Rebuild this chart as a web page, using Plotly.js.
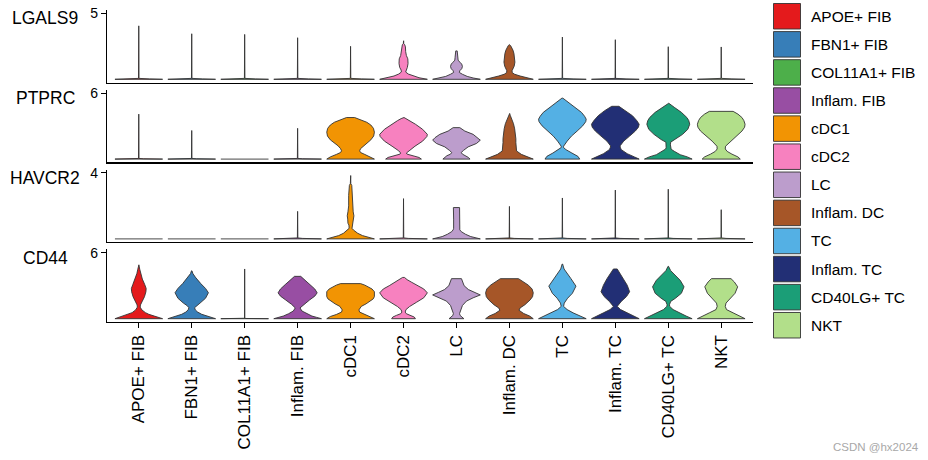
<!DOCTYPE html>
<html>
<head>
<meta charset="utf-8">
<script src="https://cdn.plot.ly/plotly-3.0.1.min.js"></script>
<style>html,body{margin:0;padding:0;background:#fff;}#chart{width:928px;height:460px;}</style>
</head>
<body>
<div id="chart"></div>
<script>
// ---------- data ----------
const cellTypes = ['APOE+ FIB','FBN1+ FIB','COL11A1+ FIB','Inflam. FIB','cDC1','cDC2','LC','Inflam. DC','TC','Inflam. TC','CD40LG+ TC','NKT'];
const cellColors = ['#E41A1C','#377EB8','#4DAF4A','#984EA3','#F29403','#F781BF','#BC9DCC','#A65628','#54B0E4','#222F75','#1B9E77','#B2DF8A'];
const genes = ['LGALS9','PTPRC','HAVCR2','CD44'];
const geneMax = [5, 6, 4, 6];

// violin density profiles: [expression, relative width]
const LGALS9_profiles = [
  [[0,1],[0.03,0.45],[0.07,0.01],[4.05,0]],
  [[0,1],[0.03,0.45],[0.07,0.01],[3.45,0]],
  [[0,1],[0.03,0.45],[0.07,0.01],[3.4,0]],
  [[0,1],[0.03,0.45],[0.07,0.01],[3.15,0]],
  [[0,1],[0.03,0.45],[0.07,0.01],[2.5,0]],
  [[0,1],[0.12,0.65],[0.25,0.4],[0.4,0.2],[0.55,0.09],[0.7,0.1],[0.9,0.16],[1.2,0.19],[1.55,0.18],[1.8,0.12],[2.1,0.09],[2.45,0.08],[2.62,0.05],[2.7,0.01],[2.92,0.005]],
  [[0,1],[0.1,0.7],[0.22,0.45],[0.38,0.25],[0.52,0.12],[0.65,0.14],[0.8,0.22],[0.97,0.25],[1.15,0.22],[1.3,0.14],[1.45,0.07],[1.65,0.06],[1.85,0.05],[2.15,0.03]],
  [[0,1],[0.12,0.7],[0.25,0.45],[0.38,0.22],[0.5,0.12],[0.65,0.11],[0.8,0.15],[1.0,0.2],[1.3,0.23],[1.65,0.22],[1.95,0.19],[2.2,0.15],[2.4,0.1],[2.55,0.05],[2.62,0.01]],
  [[0,1],[0.03,0.45],[0.07,0.01],[3.2,0]],
  [[0,1],[0.03,0.45],[0.07,0.01],[3.0,0]],
  [[0,1],[0.03,0.45],[0.07,0.01],[2.47,0]],
  [[0,1],[0.03,0.45],[0.07,0.01],[2.45,0]]
];
const PTPRC_profiles = [
  [[0,1],[0.03,0.2],[0.06,0.01],[4.09,0]],
  [[0,1],[0.03,0.2],[0.06,0.01],[2.6,0]],
  [[0,1]],
  [[0,1],[0.03,0.2],[0.06,0.01],[2.8,0]],
  [[0,1],[0.2,0.85],[0.42,0.6],[0.6,0.42],[0.75,0.38],[0.95,0.42],[1.2,0.52],[1.45,0.68],[1.75,0.85],[2.1,0.97],[2.45,1.0],[2.8,0.96],[3.1,0.85],[3.35,0.68],[3.55,0.45],[3.7,0.28],[3.78,0.17]],
  [[0,0.75],[0.15,0.65],[0.3,0.4],[0.45,0.15],[0.55,0.12],[0.75,0.2],[1.17,0.48],[1.63,0.8],[2.05,0.98],[2.25,1.0],[2.71,0.8],[3.17,0.5],[3.5,0.25],[3.68,0.1],[3.78,0.02]],
  [[0,0.57],[0.15,0.5],[0.31,0.4],[0.45,0.25],[0.6,0.2],[0.8,0.3],[1.11,0.49],[1.42,0.84],[1.72,1.0],[1.95,0.9],[2.25,0.7],[2.55,0.35],[2.75,0.2],[2.86,0.14]],
  [[0,1],[0.22,0.75],[0.43,0.5],[0.74,0.3],[1.05,0.28],[1.5,0.27],[1.85,0.27],[2.3,0.25],[2.75,0.22],[3.22,0.17],[3.68,0.09],[3.95,0.04],[4.15,0.01]],
  [[0,0.73],[0.25,0.65],[0.55,0.4],[0.86,0.15],[1.05,0.05],[1.17,0.05],[1.4,0.12],[1.63,0.2],[2.09,0.38],[2.55,0.62],[3.02,0.85],[3.4,0.98],[3.63,1.0],[3.9,0.93],[4.25,0.8],[4.71,0.52],[5.17,0.25],[5.54,0.02]],
  [[0,1],[0.2,0.8],[0.49,0.5],[0.86,0.25],[1.1,0.2],[1.23,0.21],[1.63,0.35],[2.09,0.6],[2.55,0.84],[2.9,0.97],[3.17,1.0],[3.5,0.9],[3.94,0.72],[4.4,0.45],[4.65,0.25],[4.8,0.15]],
  [[0,1],[0.2,0.8],[0.4,0.5],[0.71,0.25],[0.9,0.12],[1.02,0.09],[1.3,0.09],[1.54,0.1],[1.78,0.3],[2.25,0.6],[2.71,0.82],[3.17,0.9],[3.5,0.86],[3.78,0.78],[4.25,0.55],[4.71,0.25],[5.08,0.02]],
  [[0,0.8],[0.2,0.7],[0.45,0.45],[0.7,0.25],[0.92,0.17],[1.17,0.18],[1.63,0.38],[2.09,0.63],[2.55,0.87],[2.9,0.98],[3.17,1.0],[3.5,0.95],[3.78,0.87],[4.09,0.7],[4.34,0.5]]
];
const HAVCR2_profiles = [
  [[0,1]],
  [[0,1]],
  [[0,1]],
  [[0,1],[0.03,0.2],[0.06,0.01],[1.67,0]],
  [[0,1],[0.08,0.8],[0.2,0.5],[0.34,0.3],[0.54,0.12],[0.64,0.06],[0.84,0.07],[0.95,0.11],[1.2,0.12],[1.4,0.14],[1.64,0.11],[2.0,0.08],[2.64,0.08],[2.9,0.06],[3.24,0.05],[3.35,0.01],[3.84,0.005]],
  [[0,1],[0.03,0.2],[0.06,0.01],[2.44,0]],
  [[0,1],[0.14,0.6],[0.28,0.38],[0.44,0.2],[0.55,0.14],[0.64,0.12],[1.2,0.12],[1.9,0.13]],
  [[0,1],[0.03,0.2],[0.06,0.01],[1.97,0]],
  [[0,1],[0.03,0.2],[0.06,0.01],[2.48,0]],
  [[0,1],[0.03,0.2],[0.06,0.01],[2.96,0]],
  [[0,1],[0.03,0.2],[0.06,0.01],[3.01,0]],
  [[0,1],[0.03,0.2],[0.06,0.01],[1.77,0]]
];
const CD44_profiles = [
  [[0,1],[0.12,0.82],[0.24,0.65],[0.4,0.42],[0.55,0.28],[0.8,0.13],[1.05,0.06],[1.25,0.07],[1.6,0.15],[2.0,0.24],[2.45,0.3],[2.75,0.31],[3.1,0.25],[3.6,0.15],[4.1,0.08],[4.5,0.04],[4.9,0.005]],
  [[0,1],[0.12,0.8],[0.24,0.62],[0.4,0.42],[0.6,0.25],[0.8,0.15],[1.0,0.12],[1.2,0.2],[1.42,0.35],[1.86,0.58],[2.36,0.7],[2.75,0.58],[3.19,0.38],[3.78,0.15],[4.1,0.05],[4.35,0.01]],
  [[0,1],[0.02,0.05],[0.04,0.005],[4.52,0]],
  [[0,1],[0.12,0.8],[0.24,0.6],[0.45,0.38],[0.7,0.18],[0.98,0.1],[1.3,0.25],[1.7,0.5],[2.05,0.72],[2.35,0.82],[2.7,0.72],[3.1,0.52],[3.5,0.3],[3.85,0.13]],
  [[0,1],[0.2,0.85],[0.38,0.6],[0.6,0.38],[0.8,0.35],[1.0,0.4],[1.12,0.45],[1.35,0.65],[1.57,0.82],[1.8,0.95],[2.01,1.0],[2.45,1.0],[2.7,0.9],[2.9,0.75],[3.05,0.6],[3.19,0.42]],
  [[0,0.5],[0.15,0.45],[0.3,0.3],[0.45,0.12],[0.6,0.07],[0.82,0.1],[1.1,0.25],[1.5,0.55],[1.9,0.85],[2.35,1.0],[2.7,0.85],[3.0,0.6],[3.3,0.35],[3.55,0.15],[3.75,0.04]],
  [[0,0.31],[0.12,0.25],[0.3,0.15],[0.47,0.13],[0.8,0.18],[1.2,0.25],[1.6,0.42],[1.9,0.7],[2.16,1.0],[2.4,0.75],[2.65,0.5],[3.0,0.32],[3.35,0.25],[3.64,0.21]],
  [[0,1],[0.24,0.85],[0.47,0.6],[0.77,0.4],[0.98,0.45],[1.27,0.65],[1.71,0.87],[2.0,0.97],[2.36,1.0],[2.7,0.95],[3.04,0.8],[3.34,0.6],[3.64,0.38]],
  [[0,1],[0.24,0.75],[0.53,0.45],[0.83,0.2],[1.12,0.05],[1.42,0.08],[1.86,0.22],[2.31,0.42],[2.96,0.57],[3.64,0.36],[4.08,0.2],[4.52,0.07],[4.97,0.01]],
  [[0,1],[0.24,0.8],[0.53,0.5],[0.83,0.22],[1.12,0.08],[1.57,0.25],[2.01,0.47],[2.45,0.6],[3.04,0.5],[3.64,0.35],[4.08,0.2],[4.52,0.08]],
  [[0,1],[0.24,0.75],[0.47,0.5],[0.83,0.2],[1.12,0.06],[1.27,0.05],[1.57,0.1],[1.86,0.3],[2.31,0.55],[2.9,0.66],[3.49,0.5],[3.93,0.3],[4.37,0.1],[4.76,0.01]],
  [[0,1],[0.24,0.8],[0.53,0.5],[0.83,0.22],[1.12,0.17],[1.42,0.2],[1.86,0.38],[2.31,0.58],[2.9,0.69],[3.34,0.55],[3.64,0.41]]
];
const geneProfiles = [LGALS9_profiles, PTPRC_profiles, HAVCR2_profiles, CD44_profiles];

// ---------- layout constants ----------
const W = 928, H = 460;
const M = {l: 107, r: 175, t: 10, b: 138};
const plotW = W - M.l - M.r, plotH = H - M.t - M.b;
const panelH = 72.6, gapH = 7.2;
const FONT = 'Arial, "Liberation Sans", sans-serif';
const halfWidth = 0.45;

function pxToPaperX(px){ return (px - M.l) / plotW; }
function pxToPaperY(py){ return (H - M.b - py) / plotH; }

const traces = [];
const layout = {
  width: W, height: H,
  margin: {l: M.l, r: M.r, t: M.t, b: M.b, pad: 0},
  paper_bgcolor: '#ffffff', plot_bgcolor: 'rgba(0,0,0,0)',
  showlegend: false,
  font: {family: FONT, color: '#000'},
  annotations: [], shapes: []
};

genes.forEach((gene, g) => {
  const axisNum = 4 - g;               // LGALS9 on top
  const ySuffix = axisNum === 1 ? '' : String(axisNum);
  const xSuffix = ySuffix;
  const top = M.t + g * (panelH + gapH);
  const bottom = top + panelH;
  const dom = [pxToPaperY(bottom), pxToPaperY(top)];
  const mx = geneMax[g];
  layout['yaxis' + ySuffix] = {
    domain: dom, anchor: 'x' + xSuffix,
    range: [-0.05 * mx, 1.05 * mx],
    tickvals: [mx], ticktext: [String(mx)],
    ticks: 'outside', ticklen: 5, tickwidth: 1, tickcolor: '#000',
    showline: true, linecolor: '#000', linewidth: 1.2,
    showgrid: false, zeroline: false, fixedrange: true,
    tickfont: {family: FONT, size: 14, color: '#000'}
  };
  const xa = {
    domain: [0, 1], anchor: 'y' + ySuffix,
    range: [-0.6, cellTypes.length - 0.4],
    showline: true, linecolor: '#000', linewidth: 1.2,
    showgrid: false, zeroline: false, fixedrange: true
  };
  if (axisNum === 1) {
    Object.assign(xa, {
      tickmode: 'array', tickvals: cellTypes.map((c, i) => i), ticktext: cellTypes,
      tickangle: -90, ticks: 'outside', ticklen: 5, tickwidth: 1, tickcolor: '#000',
      tickfont: {family: FONT, size: 17, color: '#000'}
    });
  } else {
    Object.assign(xa, {matches: 'x', showticklabels: false, ticks: ''});
  }
  layout['xaxis' + xSuffix] = xa;

  // gene label
  layout.annotations.push({
    text: gene, xref: 'paper', yref: 'paper',
    x: pxToPaperX(45), y: pxToPaperY(top + 8.2),
    xanchor: 'center', yanchor: 'middle', showarrow: false,
    font: {family: FONT, size: 17.5, color: '#000'}
  });

  // violins
  geneProfiles[g].forEach((prof, i) => {
    let xs = [], ys = [];
    if (prof.length === 1) {
      xs = [i - halfWidth * prof[0][1], i + halfWidth * prof[0][1]];
      ys = [prof[0][0], prof[0][0]];
    } else {
      for (let k = 0; k < prof.length; k++) { xs.push(i - halfWidth * prof[k][1]); ys.push(prof[k][0]); }
      for (let k = prof.length - 1; k >= 0; k--) { xs.push(i + halfWidth * prof[k][1]); ys.push(prof[k][0]); }
      xs.push(xs[0]); ys.push(ys[0]);
    }
    traces.push({
      type: 'scatter', mode: 'lines', x: xs, y: ys,
      xaxis: 'x' + xSuffix, yaxis: 'y' + ySuffix,
      fill: prof.length === 1 ? 'none' : 'toself',
      fillcolor: cellColors[i],
      line: {color: '#333333', width: 0.9},
      hoverinfo: 'skip'
    });
  });
});

// legend (manual, as ggplot-style square keys)
const keyX0 = 773.5, keyW = 27, keyH = 25.5, keyTop0 = 3.5, keyPitch = 28.09;
cellTypes.forEach((c, i) => {
  const t = keyTop0 + i * keyPitch;
  layout.shapes.push({
    type: 'rect', xref: 'paper', yref: 'paper',
    x0: pxToPaperX(keyX0), x1: pxToPaperX(keyX0 + keyW),
    y0: pxToPaperY(t + keyH), y1: pxToPaperY(t),
    fillcolor: cellColors[i], line: {color: '#333333', width: 0.9}
  });
  layout.annotations.push({
    text: c, xref: 'paper', yref: 'paper',
    x: pxToPaperX(809), y: pxToPaperY(t + keyH / 2),
    xanchor: 'left', yanchor: 'middle', showarrow: false,
    font: {family: FONT, size: 15.5, color: '#000'}
  });
});

// watermark
layout.annotations.push({
  text: 'CSDN @hx2024', xref: 'paper', yref: 'paper',
  x: pxToPaperX(831), y: pxToPaperY(446.7),
  xanchor: 'left', yanchor: 'middle', showarrow: false,
  font: {family: FONT, size: 11.5, color: '#a8a8a8'}
});

Plotly.newPlot('chart', traces, layout, {staticPlot: true, displayModeBar: false});
</script>
</body>
</html>
